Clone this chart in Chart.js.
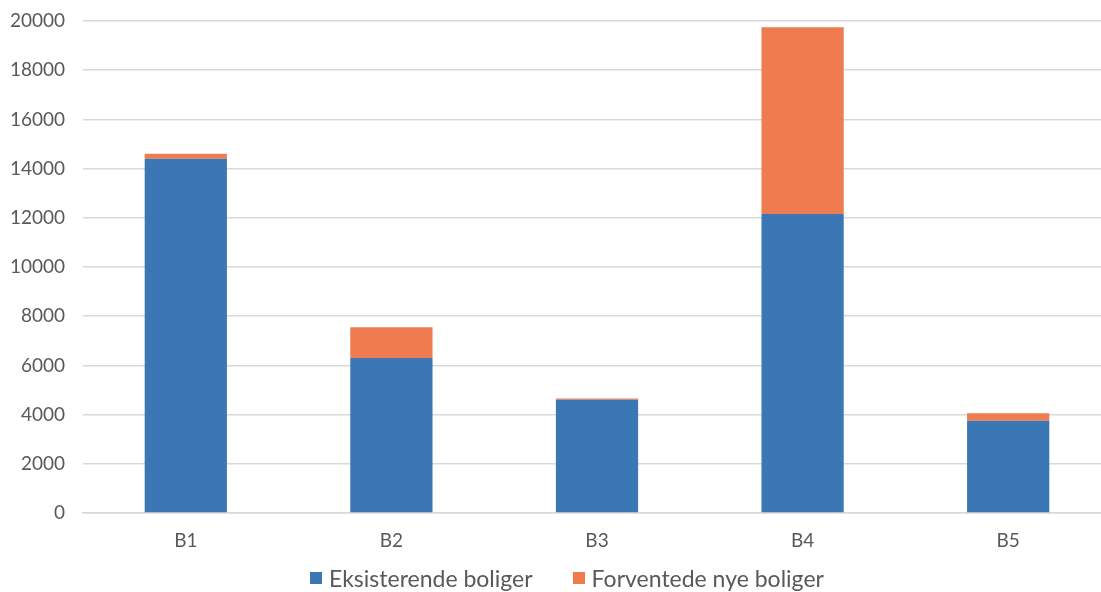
<!DOCTYPE html>
<html>
<head>
<meta charset="utf-8">
<script src="https://cdn.jsdelivr.net/npm/chart.js@4/dist/chart.umd.min.js"></script>
<style>
  html, body { margin: 0; padding: 0; background: #fff; overflow: hidden; }
  #wrap { position: relative; width: 1101px; height: 592px; overflow: hidden; }
  #c { position: absolute; left: 0; top: 0; }
  #legend {
    position: absolute; left: 310px; top: 563px; height: 30px;
    display: flex; align-items: center;
    font-family: Lato, "Open Sans", sans-serif; font-size: 23px; color: #595959;
    white-space: nowrap;
  }
  #legend .item { display: flex; align-items: center; margin-right: 40px; }
  #legend .box { width: 12px; height: 12px; margin-right: 7px; }
</style>
</head>
<body>
<div id="wrap">
  <canvas id="c" width="1112" height="592"></canvas>
  <div id="legend"></div>
</div>
<script>
// Boligområder og antall boliger
const categories = ['B1', 'B2', 'B3', 'B4', 'B5'];
const eksisterende = [14400, 6300, 4600, 12150, 3750];
const forventede = [200, 1250, 50, 7600, 300];
const yTicks = [0, 2000, 4000, 6000, 8000, 10000, 12000, 14000, 16000, 18000, 20000];

const textColor = '#595959';
const gridColor = '#d9d9d9';
Chart.defaults.font.family = 'Lato, "Open Sans", sans-serif';
Chart.defaults.font.size = 19;
Chart.defaults.color = textColor;

const chart = new Chart(document.getElementById('c'), {
  type: 'bar',
  data: {
    labels: categories,
    datasets: [
      { label: 'Eksisterende boliger', data: eksisterende, backgroundColor: '#3b77b5' },
      { label: 'Forventede nye boliger', data: forventede, backgroundColor: '#ef7c4f' }
    ]
  },
  options: {
    responsive: false,
    animation: false,
    devicePixelRatio: 1,
    categoryPercentage: 0.8,
    barPercentage: 0.5,
    layout: { padding: { top: 21, right: 1, left: 0, bottom: 0 } },
    plugins: {
      tooltip: { enabled: false },
      legend: { display: false }
    },
    scales: {
      x: {
        stacked: true,
        grid: { display: false },
        border: { display: true, color: gridColor, width: 1.5 },
        ticks: { padding: 8, color: textColor },
        afterFit(axis) { axis.height = 79; }
      },
      y: {
        stacked: true,
        min: 0,
        max: 20000,
        afterBuildTicks(axis) { axis.ticks = yTicks.map(v => ({ value: v })); },
        grid: { color: gridColor, lineWidth: 1.5, drawTicks: false },
        border: { display: false },
        ticks: {
          padding: 18,
          color: textColor,
          callback: v => String(v)
        },
        afterFit(axis) {
          axis.width = 83;
          axis.paddingTop = 0;
          axis.paddingBottom = 0;
        }
      }
    }
  }
});

// Legend below the plot, built from the datasets
const legendEl = document.getElementById('legend');
chart.data.datasets.forEach(ds => {
  const item = document.createElement('div');
  item.className = 'item';
  const box = document.createElement('span');
  box.className = 'box';
  box.style.background = ds.backgroundColor;
  const label = document.createElement('span');
  label.textContent = ds.label;
  item.appendChild(box);
  item.appendChild(label);
  legendEl.appendChild(item);
});
</script>
</body>
</html>
